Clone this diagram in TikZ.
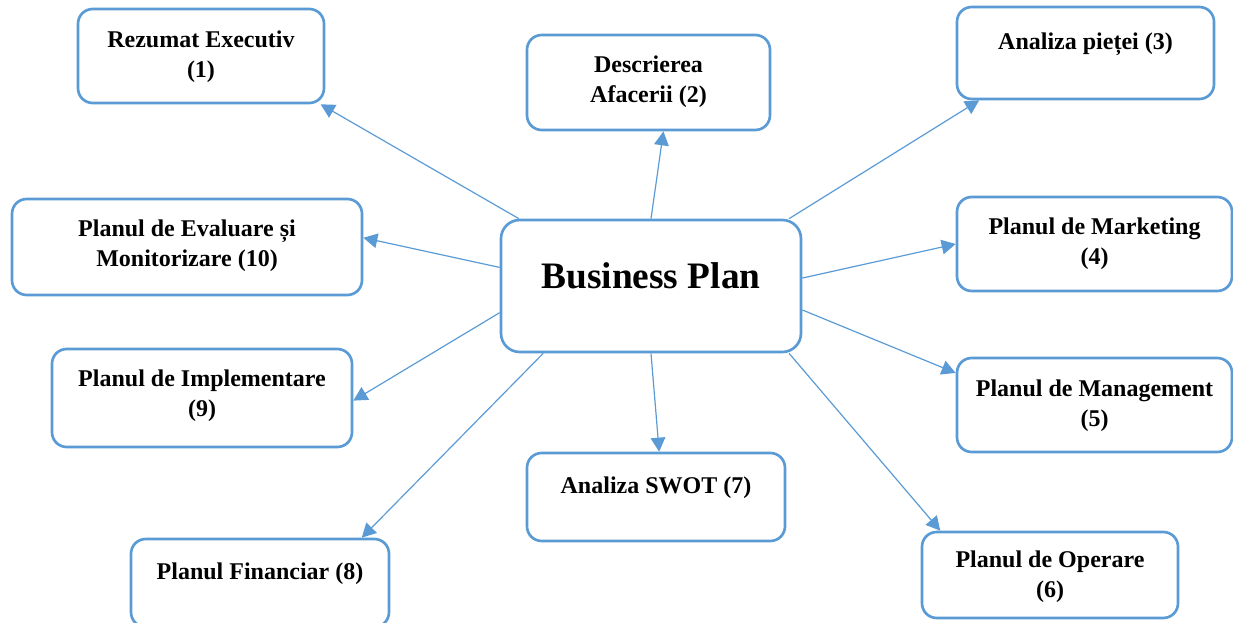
\documentclass[tikz,border=0pt]{standalone}
\usepackage{fontspec}
\setmainfont{Liberation Serif}
\usetikzlibrary{arrows.meta}
\definecolor{wordblue}{HTML}{5B9BD5}
\newlength\px
\setlength\px{0.75pt}
% width, height, first baseline, text
\newcommand{\boxlbl}[4]{\parbox[c][#2\px][t]{#1\px}{\centering\rule{0pt}{#3\px}#4}}

\begin{document}
\begin{tikzpicture}[x=0.75pt, y=-0.75pt,
    card/.style={draw=wordblue, line width=2pt, rounded corners=11pt, inner sep=0pt,
        fill=white, font=\bfseries\fontsize{18}{22.5}\selectfont},
    hub/.style={card, rounded corners=14pt, font=\bfseries\fontsize{28}{34}\selectfont},
    link/.style={draw=wordblue, line width=0.9pt, -{Triangle[length=10.5pt, width=11pt]}}]
\useasboundingbox (0,0) rectangle (1233,623);

\node[hub] (bp) at (651,286) {\boxlbl{300}{132}{69}{Business Plan}};

\node[card] (rez)  at (201,56)     {\boxlbl{246}{94}{39}{Rezumat Executiv\\(1)}};
\node[card] (desc) at (648.5,82.5) {\boxlbl{243}{95}{38}{Descrierea\\Afacerii (2)}};
\node[card] (piata) at (1085.5,53) {\boxlbl{257}{92}{43}{Analiza pieței (3)}};
\node[card] (mkt)  at (1094.5,244) {\boxlbl{275}{94}{38}{Planul de Marketing\\(4)}};
\node[card] (mgmt) at (1094.5,405) {\boxlbl{275}{94}{39}{Planul de Management\\(5)}};
\node[card] (oper) at (1050,575)   {\boxlbl{256}{86}{36}{Planul de Operare\\(6)}};
\node[card] (swot) at (656,497)    {\boxlbl{258}{88}{41}{Analiza SWOT (7)}};
\node[card] (fin)  at (260,583)    {\boxlbl{258}{88}{41}{Planul Financiar (8)}};
\node[card] (impl) at (202,398)    {\boxlbl{300}{98}{38}{Planul de Implementare\\(9)}};
\node[card] (eval) at (187,247)    {\boxlbl{350}{96}{38}{Planul de Evaluare și\\Monitorizare (10)}};

% hub -> parts
\foreach \s/\t/\e in {153.8/rez/-22.5, 90/desc/-73.4, 26.1/piata/-156.6,
    3.4/mkt/180, -9.8/mgmt/167.9, -26.6/oper/158.3, -90/swot/86.3,
    -148.8/fin/24.1, -170.2/impl/-1.5, 173.5/eval/3.9}
    \draw[link] (bp.\s) -- (\t.\e);

\end{tikzpicture}
\end{document}
